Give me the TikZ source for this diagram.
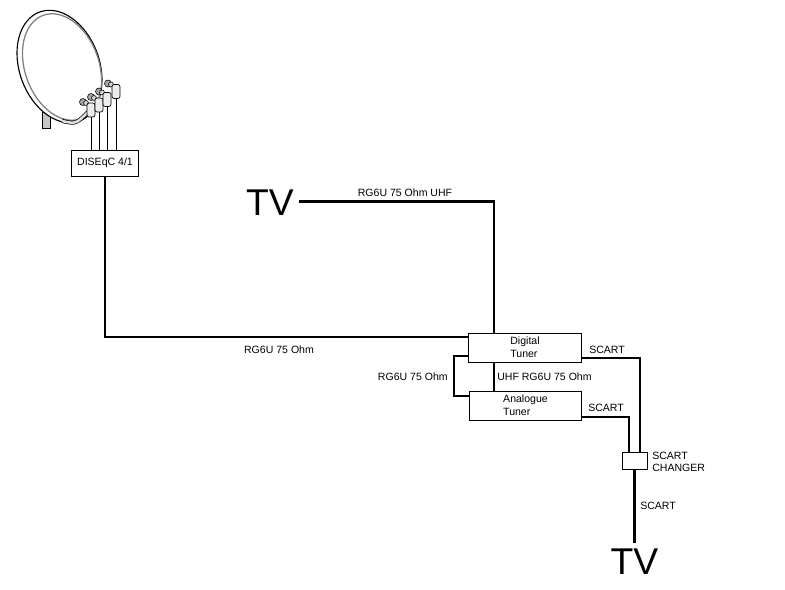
\documentclass[tikz,border=0pt]{standalone}
\usepackage{fontspec}
\setmainfont{Liberation Sans}
\usepackage{tikz}

\begin{document}
\begin{tikzpicture}[x=0.025cm,y=-0.025cm,
    cable/.style={line width=2.1pt},
    wire/.style={line width=0.6pt},
    box/.style={draw,line width=0.7pt,inner sep=0pt,align=left,font=\fontsize{7.5}{9.5}\selectfont},
    lbl/.style={inner sep=0pt,font=\fontsize{7.5}{9}\selectfont},
    tv/.style={inner sep=0pt,font=\fontsize{26.5}{30}\selectfont}]
     \useasboundingbox (0,0) rectangle (785,590);
     % dish
     \filldraw [fill=gray!45,line width=0.5pt] (42,112) rectangle (50,128);
     \filldraw [fill=white,line width=0.8pt,rotate around={-70:(59.5,66.5)}] (59.5,66.5) ellipse [x radius=58, y radius=40];
     \draw [gray,line width=0.9pt,rotate around={-70:(62,67)}] (62,67) ellipse [x radius=55, y radius=37];
     \draw [line width=0.5pt,double=gray!25,double distance=1.8pt] (62,121) .. controls (76,124) .. (88,112);
     \foreach \x/\y in {91/110, 99/105, 107/99.5, 116/91.5} {
          \filldraw [fill=gray!70,line width=0.4pt] (\x-8,\y-8) circle (3.5);
          \filldraw [fill=gray!35,line width=0.4pt] (\x-5,\y-7) circle (2.5);
          \filldraw [fill=gray!15,line width=0.5pt,rounded corners=1.5pt] (\x-4,\y-7) rectangle (\x+4,\y+7);
     }
     % boxes
     \node [box,minimum width=1.65cm,minimum height=0.65cm] (dis) at (105,163) {DISEqC 4/1};
     \node [box,minimum width=2.8cm,minimum height=0.725cm] (dig) at (525,347.5) {Digital\\Tuner};
     \node [box,minimum width=2.775cm,minimum height=0.725cm] (ana) at (525.5,405.5) {Analogue\\Tuner};
     \node [box,minimum width=0.625cm,minimum height=0.425cm] (chg) at (634.5,460.5) {};
     \node [tv] (tvA) at (270,203) {TV};
     \node [tv] (tvB) at (634.5,562) {TV};
     % LNB wires
     \foreach \x/\y in {91/110, 99/105, 107/99.5, 116/91.5}
          \draw [wire] (\x,\y+7) -- (\x,0 |- dis.north);
     % cables
     \draw [cable] ([xshift=3.5pt,yshift=1.4pt]tvA.east) -| (494,0 |- dig.north);
     \draw [cable] (dis.south) |- (dig.west |- 0,337);
     \draw [cable] (dig.west |- 0,356) -| (454,396) -- (ana.west |- 0,396);
     \draw [cable] (494,0 |- dig.south) -- (494,0 |- ana.north);
     \draw [cable] (dig.east |- 0,358) -| (640,0 |- chg.north);
     \draw [cable] (ana.east |- 0,417) -| (629,0 |- chg.north);
     \draw [cable] (chg.south) -- ([yshift=4.2pt]tvB.north);
     % labels
     \node [lbl] (l1) at (405,193) {RG6U 75 Ohm UHF};
     \node [lbl] (l2) at (279,350) {RG6U 75 Ohm};
     \node [lbl,anchor=east] (l3) at (448,377) {RG6U 75 Ohm};
     \node [lbl,anchor=west] (l4) at (497,377) {UHF RG6U 75 Ohm};
     \node [lbl,anchor=west] (l5) at (589,350) {SCART};
     \node [lbl,anchor=west] (l6) at (588,408) {SCART};
     \node [lbl,anchor=west,align=left] (l7) at (652,462) {SCART\\CHANGER};
     \node [lbl,anchor=west] (l8) at (640,506) {SCART};
\end{tikzpicture}
\end{document}
